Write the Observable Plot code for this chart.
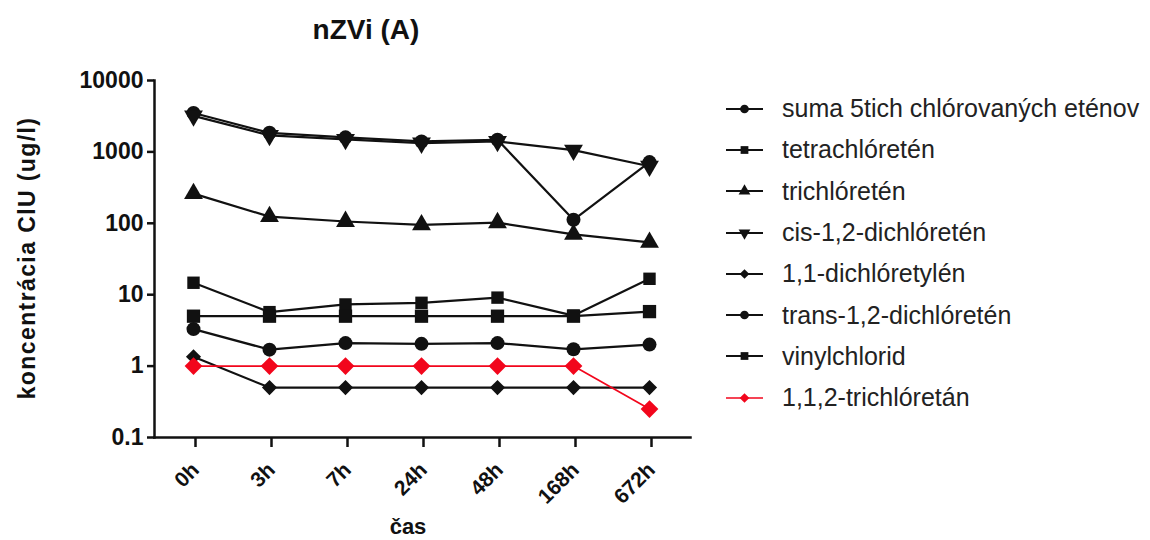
<!DOCTYPE html>
<html><head><meta charset="utf-8">
<script src="https://cdn.jsdelivr.net/npm/d3@7"></script>
<script src="https://cdn.jsdelivr.net/npm/@observablehq/plot@0.6"></script>
<style>
body{margin:0;background:#fff;font-family:Arial,"Liberation Sans",sans-serif;}
#wrap{position:relative;width:1150px;height:540px;overflow:hidden;}
#title{position:absolute;left:0;width:732px;top:14px;text-align:center;font-weight:bold;font-size:28px;color:#111;}
#ylab{position:absolute;left:27px;top:258px;transform:translate(-50%,-50%) rotate(-90deg);white-space:nowrap;font-weight:bold;font-size:23px;letter-spacing:1.4px;color:#111;}
#xlab{position:absolute;left:408px;top:514px;transform:translateX(-50%);font-weight:bold;font-size:22px;color:#111;}
#legend{position:absolute;left:722px;top:88px;}
.item{display:flex;align-items:center;height:41.3px;}
.item span{font-size:25px;color:#222;margin-left:18px;white-space:nowrap;}
#chart{position:absolute;left:0;top:0;}
</style></head><body>
<div id="wrap"><div id="chart"></div><div id="title">nZVi (A)</div><div id="ylab">koncentrácia ClU (ug/l)</div><div id="xlab">čas</div><div id="legend"></div></div>
<script>
const times = ["0h", "3h", "7h", "24h", "48h", "168h", "672h"];
const seriesNames = ["suma 5tich chlórovaných eténov", "tetrachlóretén", "trichlóretén", "cis-1,2-dichlóretén", "1,1-dichlóretylén", "trans-1,2-dichlóretén", "vinylchlorid", "1,1,2-trichlóretán"];
const suma = [3500, 1850, 1600, 1400, 1480, 112, 720];
const tetrachloreten = [14.7, 5.7, 7.3, 7.7, 9.1, 5.1, 16.7];
const trichloreten = [260, 124, 106, 95, 102, 70, 54];
const cisDCE = [3200, 1700, 1500, 1330, 1400, 1060, 630];
const dce11 = [1.35, 0.5, 0.5, 0.5, 0.5, 0.5, 0.5];
const transDCE = [3.3, 1.7, 2.1, 2.05, 2.1, 1.72, 2.0];
const vinylchlorid = [5, 5, 5, 5, 5, 5, 5.8];
const tca112 = [1, 1, 1, 1, 1, 1, 0.25];
const yTicks = [0.1, 1, 10, 100, 1000, 10000];

const seriesValues = [suma, tetrachloreten, trichloreten, cisDCE, dce11, transDCE, vinylchlorid, tca112];
const downTriangle = {
  draw(context, size) {
    const y = -Math.sqrt(size / (Math.sqrt(3) * 3));
    context.moveTo(0, -y * 2);
    context.lineTo(-Math.sqrt(3) * y, y);
    context.lineTo(Math.sqrt(3) * y, y);
    context.closePath();
  }
};
const symbols = [d3.symbolCircle, d3.symbolSquare, d3.symbolTriangle, downTriangle, d3.symbolDiamond2, d3.symbolCircle, d3.symbolSquare, d3.symbolDiamond2];
const colors = ["#111", "#111", "#111", "#111", "#111", "#111", "#111", "#f2061c"];
const lineWidths = [2.2, 2.2, 2.2, 2.2, 2.2, 2.2, 2.2, 1.7];
const dotR = [7, 7, 7, 7, 6.8, 7, 7.5, 8];

const marks = [];
seriesValues.forEach((vals, i) => {
  const data = times.map((t, j) => ({time: t, value: vals[j], series: seriesNames[i]}));
  marks.push(Plot.line(data, {x: "time", y: "value", stroke: colors[i], strokeWidth: lineWidths[i]}));
});
seriesValues.forEach((vals, i) => {
  const data = times.map((t, j) => ({time: t, value: vals[j], series: seriesNames[i]}));
  marks.push(Plot.dot(data, {x: "time", y: "value", symbol: symbols[i], fill: colors[i], stroke: "none", r: dotR[i]}));
});

const chart = Plot.plot({
  width: 1150,
  height: 540,
  marginLeft: 154,
  marginRight: 460,
  marginTop: 80,
  marginBottom: 103,
  style: {background: "transparent", fontFamily: "Arial, 'Liberation Sans', sans-serif"},
  x: {type: "point", domain: times, range: [190, 651], padding: 0},
  y: {type: "log", domain: [0.1, 10000]},
  marks: [
    Plot.axisY({ticks: yTicks, tickFormat: d => String(d), tickSize: 7, tickPadding: 4, fontSize: 23, fontWeight: "bold", strokeWidth: 2.5, label: null, color: "#111"}),
    Plot.axisX({tickSize: 10, tickRotate: -45, tickPadding: 19, dx: 2, fontSize: 21, fontWeight: "bold", strokeWidth: 2.5, label: null, color: "#111"}),
    Plot.frame({anchor: "left", strokeWidth: 2.5, stroke: "#111"}),
    Plot.frame({anchor: "bottom", strokeWidth: 2.5, stroke: "#111"}),
    ...marks
  ]
});
document.getElementById("chart").appendChild(chart);

const legend = document.getElementById("legend");
seriesNames.forEach((name, i) => {
  const item = document.createElement("div");
  item.className = "item";
  const ns = "http://www.w3.org/2000/svg";
  const svg = document.createElementNS(ns, "svg");
  svg.setAttribute("width", 42); svg.setAttribute("height", 20);
  const line = document.createElementNS(ns, "line");
  line.setAttribute("x1", 4); line.setAttribute("x2", 41); line.setAttribute("y1", 10); line.setAttribute("y2", 10);
  line.setAttribute("stroke", colors[i]); line.setAttribute("stroke-width", lineWidths[i]);
  svg.appendChild(line);
  const p = document.createElementNS(ns, "path");
  p.setAttribute("d", d3.symbol(symbols[i], 60)());
  p.setAttribute("transform", "translate(22.5,10)");
  p.setAttribute("fill", colors[i]);
  svg.appendChild(p);
  item.appendChild(svg);
  const span = document.createElement("span");
  span.textContent = name;
  item.appendChild(span);
  legend.appendChild(item);
});
</script>
</body></html>
